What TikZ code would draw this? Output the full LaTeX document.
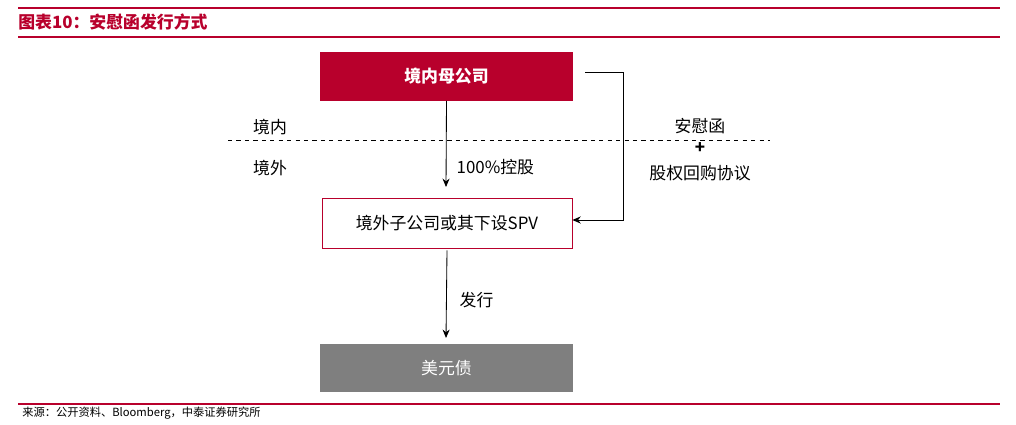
\documentclass[tikz,border=0pt]{standalone}
\usepackage{fontspec}
\setmainfont{Noto Sans CJK SC}
\usetikzlibrary{arrows.meta}
\definecolor{zred}{HTML}{B8002C}
\definecolor{zgrey}{HTML}{7F7F7F}
\begin{document}
\begin{tikzpicture}[x=0.025cm,y=-0.025cm,
  solidbox/.style={minimum width=6.3cm,minimum height=1.2cm,inner sep=0pt,text=white,font=\bfseries\fontsize{12}{14}\selectfont},
  outbox/.style={draw=zred,fill=white,minimum width=6.25cm,minimum height=1.25cm,inner sep=0pt,font=\fontsize{12}{14}\selectfont},
  lbl/.style={font=\fontsize{12}{14}\selectfont,inner sep=1pt},
  arr/.style={-{Stealth[length=6pt,width=5pt]},line width=0.6pt}]
\useasboundingbox (0,0) rectangle (1016,425);
\draw[zred,line width=2pt] (18,8) -- (1000,8);
\draw[zred,line width=0.8pt] (18,37) -- (1000,37);
\node[anchor=west,text=zred,font=\bfseries\fontsize{12}{14}\selectfont,inner sep=0pt] (title) at (18,22) {图表10：安慰函发行方式};
\node[solidbox,fill=zred] (parent) at (446.5,76.5) {境内母公司};
\node[outbox] (sub) at (447,223) {境外子公司或其下设SPV};
\node[solidbox,fill=zgrey,font=\fontsize{12}{14}\selectfont] (bond) at (446.5,368) {美元债};
\draw[dashed,line width=0.5pt] (228,140) -- (770,140);
\node[lbl] (in) at (270,127) {境内};
\node[lbl] (out) at (270,168) {境外};
\draw[arr] (parent.south) -- (446,187) coordinate (a1);
\node[lbl,anchor=west] (hold) at (455,167) {100\%控股};
\draw[arr] (sub.south) ++(0,2) -- (446,338);
\node[lbl,anchor=west] (issue) at (458,300) {发行};
\coordinate (b1) at (585,72);
\coordinate (b2) at (623,72);
\coordinate (b3) at (623,220);
\draw[arr] (b1) -- (b2) -- (b3) -- (sub.east |- b3);
\node[lbl] (comfort) at (700,126) {安慰函};
\node[lbl,font=\bfseries\fontsize{12}{14}\selectfont] (plus) at (700,148) {+};
\node[lbl] (buy) at (700,173) {股权回购协议};
\draw[zred,line width=1pt] (18,404) -- (1000,404);
\node[anchor=west,font=\fontsize{8}{10}\selectfont,inner sep=0pt] (src) at (22,413) {来源：公开资料、Bloomberg，中泰证券研究所};
\end{tikzpicture}
\end{document}
